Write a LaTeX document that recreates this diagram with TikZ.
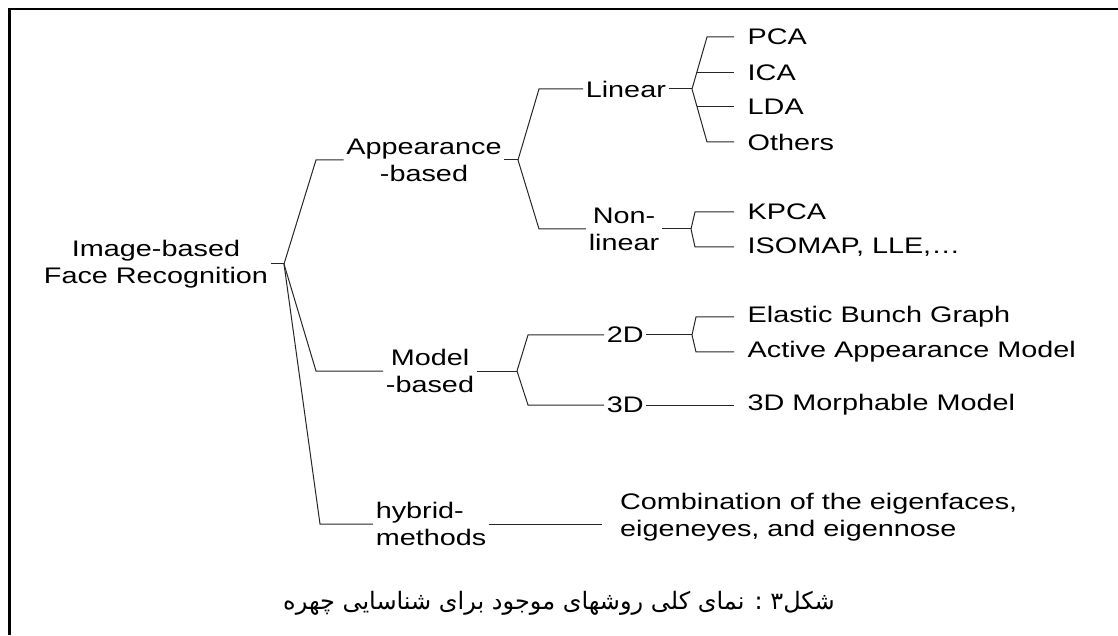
\documentclass[tikz,border=0pt]{standalone}
\usepackage{fontspec}
\setmainfont{Liberation Sans}
\newfontfamily\farsifont[Script=Arabic]{DejaVu Sans}
\TeXXeTstate=1
\usetikzlibrary{calc}

\tikzset{
	txt/.style={font=\fontsize{22.5}{27}\selectfont, xscale=1.28, transform shape, inner xsep=2pt, inner ysep=1pt, align=center},
	leaf/.style={txt, anchor=west, inner xsep=10.5pt},
	branch/.style={color=black!85, line width=1pt}
}

\begin{document}
\begin{tikzpicture}[x=1pt, y=1pt]
		\useasboundingbox (0,0) rectangle (1118,635);
		\draw [line width=2.5pt] (9.5,0) -- (9.5,626) -- (1118,626);
		\node [txt] (root) at (156,371) {Image-based\\Face Recognition};
		\coordinate (rf) at (284,371);
		\draw [branch] (root.east) -- (rf);
		\node [txt] (app) at (424,475) {Appearance\\-based};
		\draw [branch] (rf) -- (316,0 |- app.west) -- (app.west);
		\coordinate (af) at (518,475);
		\draw [branch] (app.east) -- (af);
		\node [txt, anchor=west] (lin) at (583,546) {Linear};
		\draw [branch] (af) -- (539,0 |- lin.west) -- (lin.west);
		\coordinate (lf) at (692,546);
		\draw [branch] (lin.east) -- (lf);
		\node [leaf] (pca) at (734,598) {PCA};
		\node [leaf] (ica) at (734,562) {ICA};
		\node [leaf] (lda) at (734,528) {LDA};
		\node [leaf] (oth) at (734,493) {Others};
		\draw [branch] (lf) -- (707,0 |- pca.west) -- (pca.west);
		\draw [branch] (lf) -- (707,0 |- oth.west) -- (oth.west);
		\draw [branch] (696.5,0 |- ica.west) -- (ica.west);
		\draw [branch] (697,0 |- lda.west) -- (lda.west);
		\node [txt] (non) at (624,406) {Non-\\linear};
		\draw [branch] (af) -- (539,0 |- non.west) -- (non.west);
		\coordinate (nf) at (691,406);
		\draw [branch] (non.east) -- (nf);
		\node [leaf] (kpca) at (734,423) {KPCA};
		\node [leaf] (iso) at (734,388) {ISOMAP, LLE,\ldots};
		\draw [branch] (nf) -- (695,0 |- kpca.west) -- (kpca.west);
		\draw [branch] (nf) -- (695,0 |- iso.west) -- (iso.west);
		\node [txt] (mod) at (430,264) {Model\\-based};
		\draw [branch] (rf) -- (316,0 |- mod.west) -- (mod.west);
		\coordinate (mf) at (517,264);
		\draw [branch] (mod.east) -- (mf);
		\node [txt, anchor=west] (twod) at (604,300) {2D};
		\draw [branch] (mf) -- (528,0 |- twod.west) -- (twod.west);
		\coordinate (tf) at (692,300);
		\draw [branch] (twod.east) -- (tf);
		\node [leaf] (ebg) at (734,318) {Elastic Bunch Graph};
		\node [leaf] (aam) at (734,283) {Active Appearance Model};
		\draw [branch] (tf) -- (696,0 |- ebg.west) -- (ebg.west);
		\draw [branch] (tf) -- (696,0 |- aam.west) -- (aam.west);
		\node [txt, anchor=west] (threed) at (604,230) {3D};
		\draw [branch] (mf) -- (528,0 |- threed.west) -- (threed.west);
		\node [leaf] (mm) at (734,230) {3D Morphable Model};
		\draw [branch] (threed.east) -- (mm.west);
		\node [txt, align=left] (hyb) at (431,111) {hybrid-\\methods};
		\draw [branch] (rf) -- (320,0 |- hyb.west) -- (hyb.west);
		\node [txt, anchor=west, align=left, inner xsep=14pt] (comb) at (602,118) {Combination of the eigenfaces,\\eigeneyes, and eigennose};
		\draw [branch] (hyb.east) -- (hyb.east -| comb.west);
		\node [font=\farsifont\fontsize{24}{28}\selectfont] (cap) at (559,32) {\beginR شکل۳ : نمای کلی روشهای موجود برای شناسایی چهره\endR};
	\end{tikzpicture}
\end{document}
